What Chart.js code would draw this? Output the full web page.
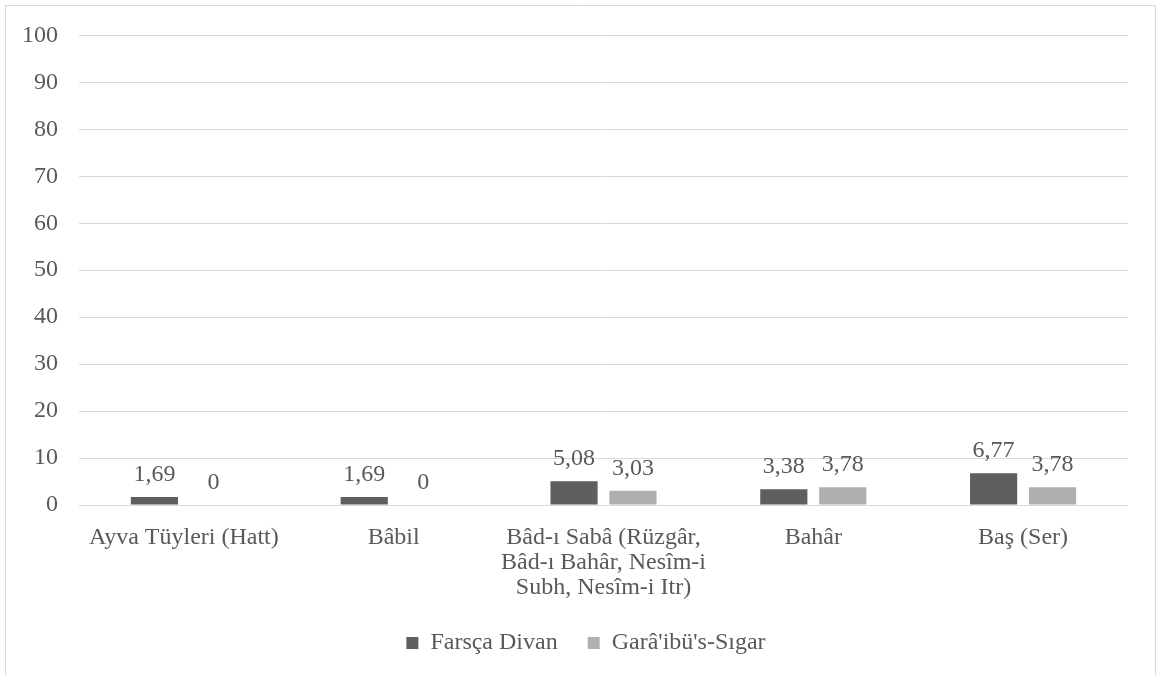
<!DOCTYPE html>
<html>
<head>
<meta charset="utf-8">
<script src="https://cdn.jsdelivr.net/npm/chart.js@4.4.0/dist/chart.umd.min.js"></script>
<style>
  html, body { margin: 0; padding: 0; background: #fff; }
  #wrap { width: 1157px; height: 675px; position: relative; }
</style>
</head>
<body>
<div id="wrap"><canvas id="chart"></canvas></div>
<script>
const categories = [
    'Ayva Tüyleri (Hatt)',
    'Bâbil',
    ['Bâd-ı Sabâ (Rüzgâr,', 'Bâd-ı Bahâr, Nesîm-i', 'Subh, Nesîm-i Itr)'],
    'Bahâr',
    'Baş (Ser)'
];
const farscaDivan = [1.69, 1.69, 5.08, 3.38, 6.77];
const garaibSigar = [0, 0, 3.03, 3.78, 3.78];
const seriesNames = ['Farsça Divan', "Garâ'ibü's-Sıgar"];
const yTicks = [0, 10, 20, 30, 40, 50, 60, 70, 80, 90, 100];

const textColor = '#595959';
const fontFamily = '"Liberation Serif", "Times New Roman", serif';
const fontSize = 24;

// frame around the whole chart (bottom edge is cut off in the original)
const framePlugin = {
    id: 'frame',
    afterLayout(chart) {
        // legend sits centred on the frame, not on the plot
        chart.legend.left += 22;
        chart.legend.right += 22;
    },
    beforeDraw(chart) {
        const ctx = chart.ctx;
        ctx.save();
        ctx.strokeStyle = '#d9d9d9';
        ctx.lineWidth = 1;
        ctx.beginPath();
        ctx.moveTo(5.5, 680);
        ctx.lineTo(5.5, 5.5);
        ctx.lineTo(1155.5, 5.5);
        ctx.lineTo(1155.5, 680);
        ctx.stroke();
        ctx.restore();
    }
};

// value labels above each bar
const valueLabels = {
    id: 'valueLabels',
    afterDatasetsDraw(chart) {
        const ctx = chart.ctx;
        ctx.save();
        ctx.font = fontSize + 'px ' + fontFamily;
        ctx.fillStyle = textColor;
        ctx.textAlign = 'center';
        ctx.textBaseline = 'alphabetic';
        chart.data.datasets.forEach(function (ds, i) {
            chart.getDatasetMeta(i).data.forEach(function (bar, j) {
                const txt = String(ds.data[j]).replace('.', ',');
                ctx.fillText(txt, bar.x, bar.y - 16);
            });
        });
        ctx.restore();
    }
};

new Chart(document.getElementById('chart'), {
    type: 'bar',
    data: {
        labels: categories,
        datasets: [{
            label: seriesNames[0],
            data: farscaDivan,
            backgroundColor: '#5f5f5f'
        }, {
            label: seriesNames[1],
            data: garaibSigar,
            backgroundColor: '#b0b0b0'
        }]
    },
    options: {
        responsive: true,
        maintainAspectRatio: false,
        animation: false,
        categoryPercentage: 0.562,
        barPercentage: 0.8,
        layout: {
            padding: { top: 35, right: 29, left: 0, bottom: 10 }
        },
        scales: {
            x: {
                grid: { display: false, drawTicks: false },
                border: { display: false },
                ticks: {
                    color: textColor,
                    font: { family: fontFamily, size: fontSize, lineHeight: 1.05 },
                    padding: 20,
                    maxRotation: 0,
                    autoSkip: false
                },
                afterFit(scale) { scale.height = 96; }
            },
            y: {
                min: 0,
                max: 100,
                afterBuildTicks(scale) {
                    scale.ticks = yTicks.map(v => ({ value: v }));
                },
                grid: { color: '#d9d9d9', lineWidth: 1, drawTicks: false },
                border: { display: false },
                ticks: {
                    color: textColor,
                    font: { family: fontFamily, size: fontSize },
                    padding: 21
                },
                afterFit(scale) { scale.width = 79; }
            }
        },
        plugins: {
            legend: {
                position: 'bottom',
                labels: {
                    color: textColor,
                    font: { family: fontFamily, size: fontSize },
                    boxWidth: 12,
                    boxHeight: 12,
                    padding: 30
                }
            },
            tooltip: { enabled: false }
        }
    },
    plugins: [framePlugin, valueLabels]
});
</script>
</body>
</html>
